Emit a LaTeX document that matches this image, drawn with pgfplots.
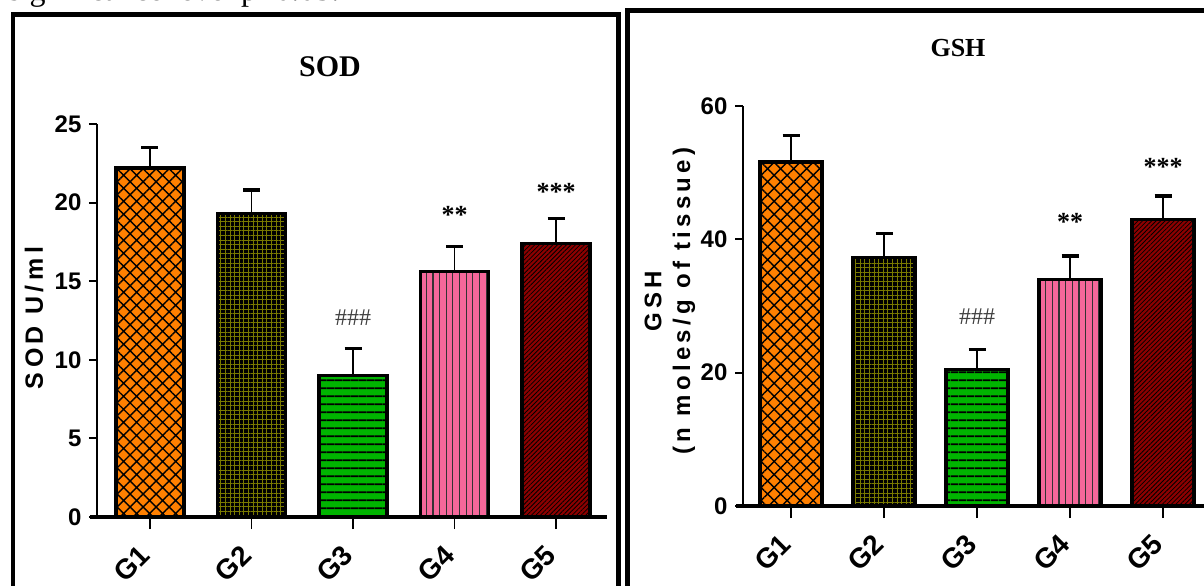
\documentclass[border=0pt]{standalone}
\usepackage{fontspec}
\setmainfont{Liberation Serif}
\newfontfamily\arial{Liberation Sans}
\newfontfamily\arialsp{Liberation Sans}[LetterSpace=18]
\usepackage{pgfplots}
\pgfplotsset{compat=1.18}
\usetikzlibrary{patterns.meta}
\definecolor{cOrange}{HTML}{FF8000}
\definecolor{cOlive}{HTML}{7A7A00}
\definecolor{cGreen}{HTML}{00B400}
\definecolor{cPink}{HTML}{F5679A}
\definecolor{cRed}{HTML}{8C0000}
\newcommand\tickfont{\arial\bfseries\fontsize{12}{14}\selectfont}
\newcommand\xtickfont{\arial\bfseries\fontsize{14}{16}\selectfont}
\pgfplotsset{
  panel/.style={scale only axis, axis lines=left, axis line style={-},
    x axis line style={line width=1.6pt, shorten <=-3.5pt},
    y axis line style={line width=1pt},
    xtick={0,...,4}, xticklabels={G1,G2,G3,G4,G5},
    tick align=outside,
    xtick style={line width=0.6pt, black, /pgfplots/major tick length=6pt},
    ytick style={line width=1pt, black, /pgfplots/major tick length=4pt},
    yticklabel style={font=\tickfont, /pgf/number format/assume math mode=true},
    xticklabel style={font=\xtickfont, rotate=45, anchor=east},
    xticklabel shift=10pt,
    clip=false},
  mybar/.style={ybar, bar width=#1, bar shift=0pt, draw=black, line width=1.6pt,
    postaction={draw=black, line width=1.6pt},
    error bars/y dir=plus, error bars/y explicit,
    error bars/error bar style={line width=0.8pt, black},
    error bars/error mark options={rotate=90, line width=1.6pt, mark size=4.25pt, black}},
  gA/.style={fill=cOrange, postaction={pattern={Hatch[angle=45,distance=4.6pt,line width=0.7pt]}, pattern color=black}},
  gB/.style={fill=black, postaction={pattern={Hatch[angle=0,distance=2.3pt,line width=0.4pt]}, pattern color=cOlive}},
  gC/.style={fill=cGreen, postaction={pattern={Lines[angle=0,distance=3.85pt,line width=0.9pt]}, pattern color=black}},
  gD/.style={fill=cPink, postaction={pattern={Lines[angle=90,distance=3.33pt,line width=0.6pt]}, pattern color=black!80}},
  gE/.style={fill=cRed, postaction={pattern={Lines[angle=45,distance=1.6pt,line width=0.4pt]}, pattern color=black}},
  hashes/.style={draw=none, mark=none, nodes near coords, point meta=explicit symbolic,
    every node near coord/.style={anchor=center, text=black!75, font=\fontsize{12}{14}\selectfont}},
  stars/.style={draw=none, mark=none, nodes near coords, point meta=explicit symbolic,
    every node near coord/.style={anchor=center, text=black, font=\bfseries\fontsize{13}{15}\selectfont}},
}
\begin{document}
\begin{tikzpicture}
\useasboundingbox (0,0) rectangle (602pt,292.5pt);
\clip (0,0) rectangle (602pt,292.5pt);
% top text (cut off)
\node[anchor=base west, inner sep=0pt, font=\fontsize{16}{18}\selectfont] at (4pt,292pt) {significance level p<0.05.};
% panel borders
\draw[line width=2.25pt] (6.5pt,-5pt) -- (6.5pt,285.25pt) -- (309.25pt,285.25pt) -- (309.25pt,-5pt);
\draw[line width=2.25pt] (313.75pt,-5pt) -- (313.75pt,287.25pt) -- (610pt,287.25pt);
% titles and labels
\node[font=\bfseries\fontsize{15}{17}\selectfont] at (165pt,259pt) {SOD};
\node[font=\bfseries\fontsize{13}{15}\selectfont] at (479pt,268.5pt) {GSH};
\node[rotate=90, font=\arialsp\bfseries\fontsize{12.5}{15}\selectfont] at (17pt,133.5pt) {SOD U/ml};
\node[rotate=90, font=\arialsp\bfseries\fontsize{12}{15}\selectfont] at (326.5pt,142pt) {GSH};
\node[rotate=90, font=\arialsp\bfseries\fontsize{12}{15}\selectfont] at (342pt,142pt) {(n moles/g of tissue)};

\begin{axis}[panel, at={(48.5pt,34pt)}, anchor=south west, width=255pt, height=196.5pt,
  xmin=-0.522, xmax=4.502, ymin=0, ymax=25, ytick={0,5,...,25}]
\addplot[mybar=34pt, gA] coordinates {(0,22.2) +- (0,1.3)};
\addplot[mybar=34pt, gB] coordinates {(1,19.3) +- (0,1.5)};
\addplot[mybar=34pt, gC] coordinates {(2,9.0) +- (0,1.7)};
\addplot[mybar=34pt, gD] coordinates {(3,15.6) +- (0,1.6)};
\addplot[mybar=34pt, gE] coordinates {(4,17.4) +- (0,1.6)};
\addplot[hashes] coordinates {(2,12.66) [\#\#\#]};
\addplot[stars] coordinates {(3,19.2) [**] (4,20.7) [***]};
\end{axis}

\begin{axis}[panel, at={(371.5pt,39.5pt)}, anchor=south west, width=233.25pt, height=200pt,
  xmin=-0.516, xmax=4.5, ymin=0, ymax=60, ytick={0,20,40,60}]
\addplot[mybar=31pt, gA] coordinates {(0,51.6) +- (0,4.0)};
\addplot[mybar=31pt, gB] coordinates {(1,37.3) +- (0,3.6)};
\addplot[mybar=31pt, gC] coordinates {(2,20.5) +- (0,3.0)};
\addplot[mybar=31pt, gD] coordinates {(3,34.0) +- (0,3.5)};
\addplot[mybar=31pt, gE] coordinates {(4,43.0) +- (0,3.5)};
\addplot[hashes] coordinates {(2,28.35) [\#\#\#]};
\addplot[stars] coordinates {(3,42.6) [**] (4,50.85) [***]};
\end{axis}
\end{tikzpicture}
\end{document}
